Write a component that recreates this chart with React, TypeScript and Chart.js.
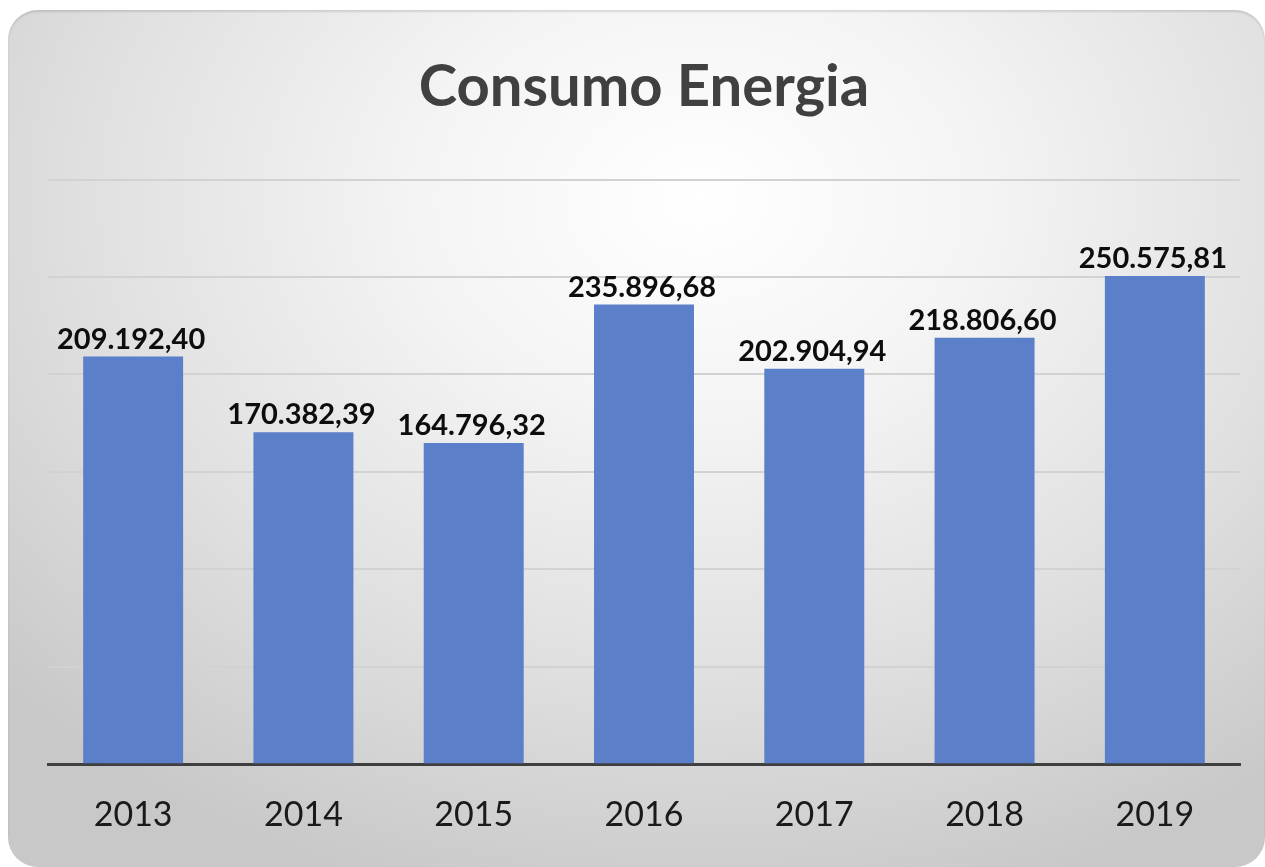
import React, { useEffect, useRef } from "react";
import { Chart, registerables } from "chart.js";

Chart.register(...registerables);

const chartTitle = "Consumo Energia";
const years = ["2013", "2014", "2015", "2016", "2017", "2018", "2019"];
const consumo = [209192.4, 170382.39, 164796.32, 235896.68, 202904.94, 218806.6, 250575.81];
const yMax = 300000;
const yStep = 50000;

function formatBR(v: number): string {
  const fixed = v.toFixed(2);
  const [intPart, dec] = fixed.split(".");
  const withDots = intPart.replace(/\B(?=(\d{3})+(?!\d))/g, ".");
  return withDots + "," + dec;
}

const dataLabelPlugin = {
  id: "dataLabels",
  afterDatasetsDraw(chart: any) {
    const ctx = chart.ctx;
    const meta = chart.getDatasetMeta(0);
    const values = chart.data.datasets[0].data as number[];
    ctx.save();
    ctx.font = "bold 29px Lato, 'Open Sans', sans-serif";
    ctx.fillStyle = "#0d0d0d";
    ctx.textAlign = "center";
    ctx.textBaseline = "alphabetic";
    meta.data.forEach((bar: any, i: number) => {
      ctx.fillText(formatBR(values[i]), bar.x - 2, bar.y - 8);
    });
    ctx.restore();
  },
};

export default function App() {
  const canvasRef = useRef<HTMLCanvasElement | null>(null);

  useEffect(() => {
    if (!canvasRef.current) return;
    const chart = new Chart(canvasRef.current, {
      type: "bar",
      data: {
        labels: years,
        datasets: [
          {
            label: chartTitle,
            data: consumo,
            backgroundColor: "#5b7fc8",
            borderWidth: 0,
            barPercentage: 0.587,
            categoryPercentage: 1,
          },
        ],
      },
      options: {
        animation: false,
        responsive: true,
        maintainAspectRatio: false,
        layout: { padding: { left: 40, right: 25, top: 0, bottom: 2 } },
        plugins: {
          legend: { display: false },
          tooltip: { enabled: false },
          title: {
            display: true,
            text: chartTitle,
            color: "#404040",
            font: { family: "Lato, 'Open Sans', sans-serif", size: 58, weight: "bold" },
            padding: { top: 42, bottom: 58 },
          },
        },
        scales: {
          x: {
            grid: { display: false, drawTicks: false },
            border: { display: true, color: "#3f3f3f", width: 3 },
            ticks: {
              color: "#1a1a1a",
              font: { family: "Lato, 'Open Sans', sans-serif", size: 34 },
              padding: 30,
            },
          },
          y: {
            min: 0,
            max: yMax,
            ticks: { display: false, stepSize: yStep },
            grid: { color: "#d2d2d2", lineWidth: 2, drawTicks: false },
            border: { display: false },
          },
        },
      },
      plugins: [dataLabelPlugin],
    });
    return () => chart.destroy();
  }, []);

  return (
    <div
      style={{
        position: "fixed",
        left: 8,
        top: 10,
        width: 1257,
        height: 857,
        borderRadius: 30,
        overflow: "hidden",
        background:
          "radial-gradient(ellipse 75% 85% at 55% 22%, #ffffff 0%, #f4f4f4 30%, #e0e0e0 65%, #c8c8c8 100%)",
        boxShadow: "inset 0 2px 2px rgba(0,0,0,0.12)",
      }}
    >
      <div style={{ position: "relative", width: 1257, height: 857 }}>
        <canvas ref={canvasRef} />
      </div>
    </div>
  );
}
